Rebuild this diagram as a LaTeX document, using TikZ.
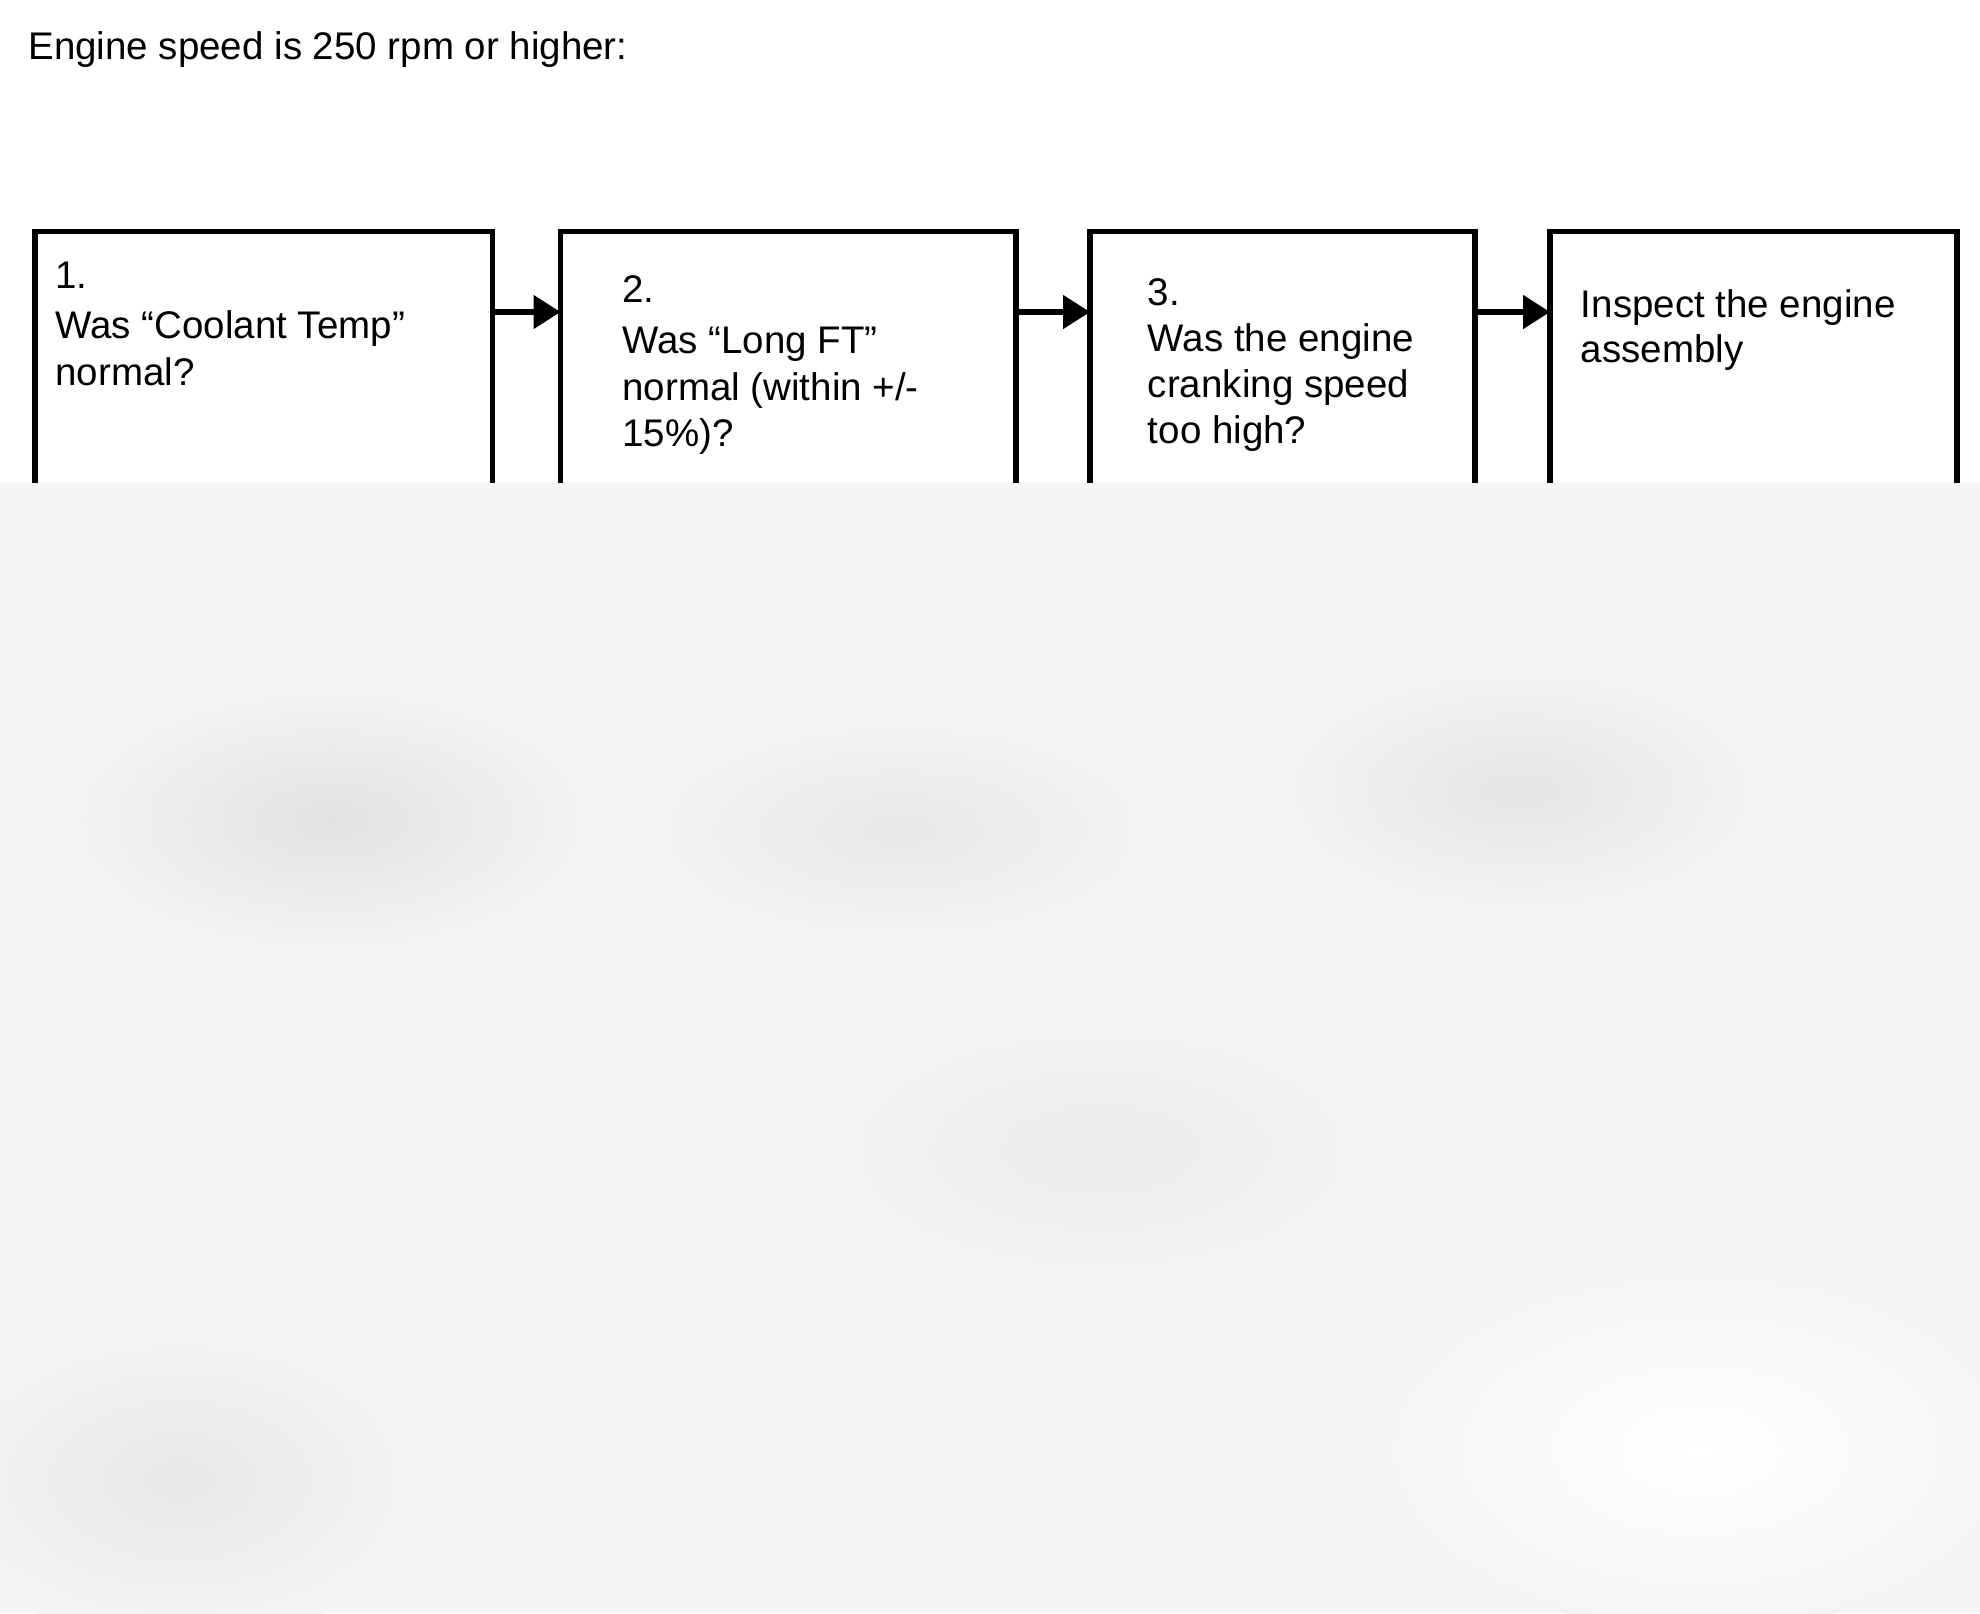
\documentclass[tikz,border=0pt]{standalone}
\usepackage{fontspec}
\setmainfont{Liberation Sans}
\usetikzlibrary{arrows.meta,calc}
\definecolor{bgc}{RGB}{245,245,245}
\definecolor{blob}{RGB}{226,226,226}
\begin{document}
\begin{tikzpicture}[x=0.5pt,y=-0.5pt,
  box/.style={draw=black,line width=2.75pt,fill=white,minimum height=300pt,
    inner sep=0pt,outer sep=0pt,anchor=north west},
  txt/.style={anchor=base west,inner sep=0pt,font=\fontsize{19.25pt}{23pt}\selectfont},
  arr/.style={line width=2.6pt,-{Triangle[length=13.5pt,width=16.5pt]}}]
\useasboundingbox (0,0) rectangle (1980,1613);
\fill[white] (0,0) rectangle (1980,1613);

\node[txt] (title) at (28,59) {Engine speed is 250 rpm or higher:};

\node[box,minimum width=228.75pt] (b1) at (35,231.5) {};
\node[box,minimum width=227.75pt] (b2) at (560.5,231.5) {};
\node[box,minimum width=192.5pt] (b3) at (1090,231.5) {};
\node[box,minimum width=203.5pt] (b4) at (1550,231.5) {};

\node[txt] (t1) at (55,288) {\parbox[t]{200pt}{\baselineskip=23.5pt 1.\\[1.5pt]Was “Coolant Temp”\\normal?}};
\node[txt] (t2) at (622,302) {\parbox[t]{190pt}{\baselineskip=23.25pt 2.\\[2.5pt]Was “Long FT”\\normal (within +/-\\15\%)?}};
\node[txt] (t3) at (1147.5,305) {\parbox[t]{160pt}{\baselineskip=23pt 3.\\Was the engine\\cranking speed\\too high?}};
\node[txt] (t4) at (1580.5,317) {\parbox[t]{180pt}{\baselineskip=22.5pt Inspect the engine\\assembly}};

\draw[arr] ($(b1.north east)+(0,80.5)$) -- ($(b2.north west)+(0,80.5)$);
\draw[arr] ($(b2.north east)+(0,80.5)$) -- ($(b3.north west)+(0,80.5)$);
\draw[arr] ($(b3.north east)+(0,80.5)$) -- ($(b4.north west)+(0,80.5)$);

% grey overlay covering the lower part
\begin{scope}
\clip (0,483) rectangle (1980,1613);
\fill[bgc] (0,483) rectangle (1980,1613);
\shade[inner color=blob,outer color=bgc] (330,820) ellipse [x radius=280,y radius=140];
\shade[inner color=blob!70!bgc,outer color=bgc] (900,830) ellipse [x radius=280,y radius=120];
\shade[inner color=blob!85!bgc,outer color=bgc] (1520,790) ellipse [x radius=260,y radius=130];
\shade[inner color=blob!70!bgc,outer color=bgc] (180,1480) ellipse [x radius=260,y radius=160];
\shade[inner color=blob!50!bgc,outer color=bgc] (1100,1150) ellipse [x radius=320,y radius=150];
\shade[inner color=white,outer color=bgc] (1700,1450) ellipse [x radius=320,y radius=180];
\end{scope}
\end{tikzpicture}
\end{document}
